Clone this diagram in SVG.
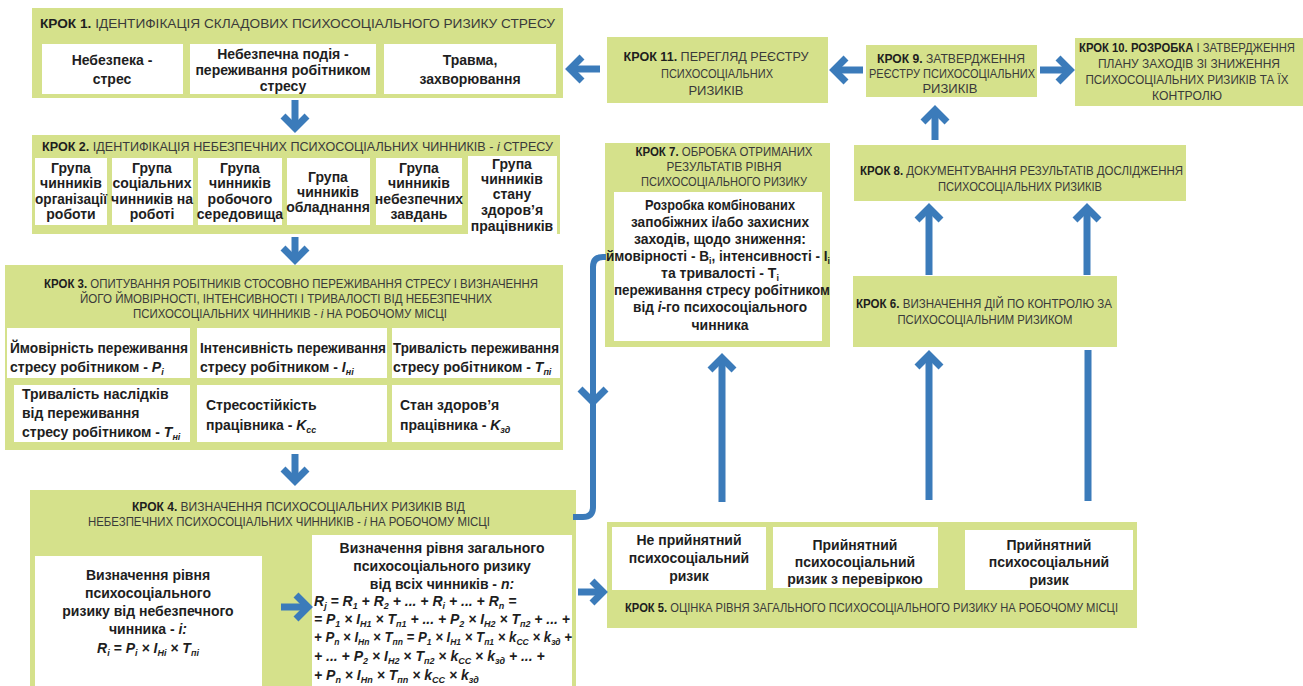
<svg xmlns="http://www.w3.org/2000/svg" width="1303" height="686" viewBox="0 0 1303 686">
<style>
.g{fill:#d5e18b}
.w{fill:#ffffff}
.t{font-family:"Liberation Sans Narrow","Liberation Sans",Arial,sans-serif;font-size:13px;fill:#3a3a3a}
.b{font-weight:bold;fill:#1e1e1e}
.x{font-family:"Liberation Sans",Arial,sans-serif;font-weight:bold;font-size:14px;fill:#1e1e1e}
.c{text-anchor:middle}
.f{font-style:italic}
.s{font-size:9px}
.arr{fill:none;stroke:#3b7bba;stroke-width:7;stroke-linejoin:miter;stroke-linecap:butt}
.ln{fill:none;stroke:#3b7bba;stroke-width:6}
</style>
<rect width="1303" height="686" fill="#ffffff"/>

<g id="step1">
<rect class="g" x="32" y="8" width="531" height="90"/>
<text class="t" x="40" y="28" font-size="15" textLength="515" lengthAdjust="spacingAndGlyphs"><tspan class="b">КРОК 1.</tspan> ІДЕНТИФІКАЦІЯ СКЛАДОВИХ ПСИХОСОЦІАЛЬНОГО РИЗИКУ СТРЕСУ</text>
<rect class="w" x="42" y="44" width="141" height="50"/>
<rect class="w" x="190" y="44" width="186" height="50"/>
<rect class="w" x="384" y="44" width="172" height="50"/>
<text class="x c" x="112" y="65">Небезпека -</text>
<text class="x c" x="112" y="84">стрес</text>
<text class="x c" x="283" y="59">Небезпечна подія -</text>
<text class="x c" x="283" y="75">переживання робітником</text>
<text class="x c" x="283" y="91">стресу</text>
<text class="x c" x="470" y="65">Травма,</text>
<text class="x c" x="470" y="84">захворювання</text>
</g>

<g id="step2">
<rect class="g" x="32" y="135" width="528" height="99"/>
<text class="t" x="42" y="151" font-size="13" textLength="511" lengthAdjust="spacingAndGlyphs"><tspan class="b">КРОК 2.</tspan> ІДЕНТИФІКАЦІЯ НЕБЕЗПЕЧНИХ ПСИХОСОЦІАЛЬНИХ ЧИННИКІВ - <tspan class="f">і</tspan> СТРЕСУ</text>
<rect class="w" x="35" y="158" width="72" height="67"/>
<rect class="w" x="112" y="158" width="81" height="67"/>
<rect class="w" x="198" y="158" width="84" height="67"/>
<rect class="w" x="287" y="158" width="83" height="67"/>
<rect class="w" x="376" y="158" width="86" height="67"/>
<rect class="w" x="468" y="156" width="89" height="78"/>
<g class="x c">
<text x="71" y="173">Група</text><text x="71" y="188">чинників</text><text x="71" y="204" textLength="72" lengthAdjust="spacingAndGlyphs">організації</text><text x="71" y="219">роботи</text>
<text x="152" y="173">Група</text><text x="152" y="188">соціальних</text><text x="152" y="204">чинників на</text><text x="152" y="219">роботі</text>
<text x="240" y="173">Група</text><text x="240" y="188">чинників</text><text x="240" y="204">робочого</text><text x="240" y="219">середовища</text>
<text x="328" y="182">Група</text><text x="328" y="197">чинників</text><text x="328" y="212">обладнання</text>
<text x="419" y="173">Група</text><text x="419" y="188">чинників</text><text x="419" y="204">небезпечних</text><text x="419" y="219">завдань</text>
<text x="512" y="169">Група</text><text x="512" y="184">чинників</text><text x="512" y="199">стану</text><text x="512" y="215">здоров’я</text><text x="512" y="231">працівників</text>
</g>
</g>

<g id="step3">
<rect class="g" x="5" y="265" width="558" height="185"/>
<text class="t" x="44" y="288" font-size="12" textLength="494" lengthAdjust="spacingAndGlyphs"><tspan class="b">КРОК 3.</tspan> ОПИТУВАННЯ РОБІТНИКІВ СТОСОВНО ПЕРЕЖИВАННЯ СТРЕСУ І ВИЗНАЧЕННЯ</text>
<text class="t" x="80" y="303" font-size="12" textLength="412" lengthAdjust="spacingAndGlyphs">ЙОГО ЙМОВІРНОСТІ, ІНТЕНСИВНОСТІ І ТРИВАЛОСТІ ВІД НЕБЕЗПЕЧНИХ</text>
<text class="t" x="133" y="318" font-size="12" textLength="314" lengthAdjust="spacingAndGlyphs">ПСИХОСОЦІАЛЬНИХ ЧИННИКІВ - <tspan class="f">і</tspan> НА РОБОЧОМУ МІСЦІ</text>
<rect class="w" x="7" y="328" width="183" height="50"/>
<rect class="w" x="197" y="328" width="190" height="50"/>
<rect class="w" x="392" y="328" width="168" height="50"/>
<rect class="w" x="14" y="385" width="176" height="57"/>
<rect class="w" x="197" y="385" width="190" height="57"/>
<rect class="w" x="392" y="385" width="168" height="57"/>
<g class="x">
<text x="10" y="353" textLength="178" lengthAdjust="spacingAndGlyphs">Ймовірність переживання</text>
<text x="10" y="372">стресу робітником - <tspan class="f">P</tspan><tspan class="s f" dy="3">і</tspan></text>
<text x="200" y="353" textLength="186" lengthAdjust="spacingAndGlyphs">Інтенсивність переживання</text>
<text x="200" y="372">стресу робітником - <tspan class="f">I</tspan><tspan class="s f" dy="3">ні</tspan></text>
<text x="393" y="353" textLength="166" lengthAdjust="spacingAndGlyphs">Тривалість переживання</text>
<text x="393" y="372">стресу робітником - <tspan class="f">T</tspan><tspan class="s f" dy="3">пі</tspan></text>
<text x="22" y="399">Тривалість наслідків</text>
<text x="22" y="418">від переживання</text>
<text x="22" y="437">стресу робітником - <tspan class="f">T</tspan><tspan class="s f" dy="3">ні</tspan></text>
<text x="206" y="410">Стресостійкість</text>
<text x="206" y="430">працівника - <tspan class="f">K</tspan><tspan class="s f" dy="3">сс</tspan></text>
<text x="400" y="410">Стан здоров’я</text>
<text x="400" y="430">працівника - <tspan class="f">K</tspan><tspan class="s f" dy="3">зд</tspan></text>
</g>
</g>

<g id="step4">
<rect class="g" x="30" y="490" width="546" height="196"/>
<text class="t" x="132" y="511" font-size="12" textLength="333" lengthAdjust="spacingAndGlyphs"><tspan class="b">КРОК 4.</tspan> ВИЗНАЧЕННЯ ПСИХОСОЦІАЛЬНИХ РИЗИКІВ ВІД</text>
<text class="t" x="88" y="526" font-size="12" textLength="402" lengthAdjust="spacingAndGlyphs">НЕБЕЗПЕЧНИХ ПСИХОСОЦІАЛЬНИХ ЧИННИКІВ - <tspan class="f">і</tspan> НА РОБОЧОМУ МІСЦІ</text>
<rect class="w" x="35" y="556" width="227" height="130"/>
<rect class="w" x="312" y="535" width="260" height="151"/>
<g class="x c" font-size="15">
<text x="148" y="580">Визначення рівня</text>
<text x="148" y="598">психосоціального</text>
<text x="148" y="616">ризику від небезпечного</text>
<text x="148" y="634">чинника - <tspan class="f">i:</tspan></text>
<text x="148" y="653" class="f">R<tspan class="s" dy="3">i</tspan><tspan dy="-3"> = P</tspan><tspan class="s" dy="3">i</tspan><tspan dy="-3"> × I</tspan><tspan class="s" dy="3">Hi</tspan><tspan dy="-3"> × T</tspan><tspan class="s" dy="3">пі</tspan></text>
<text x="442" y="553">Визначення рівня загального</text>
<text x="442" y="571">психосоціального ризику</text>
<text x="442" y="589">від всіх чинників - <tspan class="f">n:</tspan></text>
</g>
<g class="x f" font-size="13.5">
<text x="314" y="606">R<tspan class="s" dy="3">j</tspan><tspan dy="-3"> = R</tspan><tspan class="s" dy="3">1</tspan><tspan dy="-3"> + R</tspan><tspan class="s" dy="3">2</tspan><tspan dy="-3"> + ... + R</tspan><tspan class="s" dy="3">i</tspan><tspan dy="-3"> + ... + R</tspan><tspan class="s" dy="3">n</tspan><tspan dy="-3"> =</tspan></text>
<text x="314" y="624" textLength="256" lengthAdjust="spacingAndGlyphs">= P<tspan class="s" dy="3">1</tspan><tspan dy="-3"> × I</tspan><tspan class="s" dy="3">H1</tspan><tspan dy="-3"> × T</tspan><tspan class="s" dy="3">п1</tspan><tspan dy="-3"> + ... + P</tspan><tspan class="s" dy="3">2</tspan><tspan dy="-3"> × I</tspan><tspan class="s" dy="3">H2</tspan><tspan dy="-3"> × T</tspan><tspan class="s" dy="3">п2</tspan><tspan dy="-3"> + ... +</tspan></text>
<text x="314" y="642" textLength="258" lengthAdjust="spacingAndGlyphs">+ P<tspan class="s" dy="3">n</tspan><tspan dy="-3"> × I</tspan><tspan class="s" dy="3">Hn</tspan><tspan dy="-3"> × T</tspan><tspan class="s" dy="3">пn</tspan><tspan dy="-3"> = P</tspan><tspan class="s" dy="3">1</tspan><tspan dy="-3"> × I</tspan><tspan class="s" dy="3">H1</tspan><tspan dy="-3"> × T</tspan><tspan class="s" dy="3">п1</tspan><tspan dy="-3"> × k</tspan><tspan class="s" dy="3">CC</tspan><tspan dy="-3"> × k</tspan><tspan class="s" dy="3">зд</tspan><tspan dy="-3"> +</tspan></text>
<text x="314" y="661">+ ... + P<tspan class="s" dy="3">2</tspan><tspan dy="-3"> × I</tspan><tspan class="s" dy="3">H2</tspan><tspan dy="-3"> × T</tspan><tspan class="s" dy="3">п2</tspan><tspan dy="-3"> × k</tspan><tspan class="s" dy="3">CC</tspan><tspan dy="-3"> × k</tspan><tspan class="s" dy="3">зд</tspan><tspan dy="-3"> + ... +</tspan></text>
<text x="314" y="680">+ P<tspan class="s" dy="3">n</tspan><tspan dy="-3"> × I</tspan><tspan class="s" dy="3">Hn</tspan><tspan dy="-3"> × T</tspan><tspan class="s" dy="3">пn</tspan><tspan dy="-3"> × k</tspan><tspan class="s" dy="3">CC</tspan><tspan dy="-3"> × k</tspan><tspan class="s" dy="3">зд</tspan></text>
</g>
</g>

<g id="step5">
<rect class="g" x="607" y="522" width="530" height="106"/>
<rect class="w" x="612" y="527" width="154" height="63"/>
<rect class="w" x="773" y="527" width="165" height="61"/>
<rect class="w" x="965" y="530" width="168" height="60"/>
<g class="x c">
<text x="689" y="545">Не прийнятний</text><text x="689" y="563">психосоціальний</text><text x="689" y="581">ризик</text>
<text x="855" y="550">Прийнятний</text><text x="855" y="567">психосоціальний</text><text x="855" y="584">ризик з перевіркою</text>
<text x="1049" y="550">Прийнятний</text><text x="1049" y="567">психосоціальний</text><text x="1049" y="585">ризик</text>
</g>
<text class="t" x="625" y="612" textLength="493" lengthAdjust="spacingAndGlyphs"><tspan class="b">КРОК 5.</tspan> ОЦІНКА РІВНЯ ЗАГАЛЬНОГО ПСИХОСОЦІАЛЬНОГО РИЗИКУ НА РОБОЧОМУ МІСЦІ</text>
</g>

<g id="step6">
<rect class="g" x="853" y="276" width="264" height="71"/>
<text class="t" x="856" y="308" textLength="256" lengthAdjust="spacingAndGlyphs"><tspan class="b">КРОК 6.</tspan> ВИЗНАЧЕННЯ ДІЙ ПО КОНТРОЛЮ ЗА</text>
<text class="t c" x="985" y="324" textLength="175" lengthAdjust="spacingAndGlyphs">ПСИХОСОЦІАЛЬНИМ РИЗИКОМ</text>
</g>

<g id="step7">
<rect class="g" x="605" y="143" width="225" height="204"/>
<text class="t c" x="724" y="156" font-size="12.5" textLength="177" lengthAdjust="spacingAndGlyphs"><tspan class="b">КРОК 7.</tspan> ОБРОБКА ОТРИМАНИХ</text>
<text class="t c" x="724" y="171" font-size="12.5" textLength="115" lengthAdjust="spacingAndGlyphs">РЕЗУЛЬТАТІВ РІВНЯ</text>
<text class="t c" x="724" y="186" font-size="12.5" textLength="166" lengthAdjust="spacingAndGlyphs">ПСИХОСОЦІАЛЬНОГО РИЗИКУ</text>
<rect class="w" x="614" y="192" width="208" height="149"/>
<g class="x c">
<text x="720" y="210" textLength="150" lengthAdjust="spacingAndGlyphs">Розробка комбінованих</text>
<text x="720" y="227" textLength="178" lengthAdjust="spacingAndGlyphs">запобіжних і/або захисних</text>
<text x="720" y="244" textLength="172" lengthAdjust="spacingAndGlyphs">заходів, щодо зниження:</text>
<text x="718" y="261" textLength="224" lengthAdjust="spacingAndGlyphs">ймовірності - В<tspan class="s" dy="3">і</tspan><tspan dy="-3">, інтенсивності - І</tspan><tspan class="s" dy="3">і</tspan></text>
<text x="720" y="278">та тривалості - Т<tspan class="s" dy="3">і</tspan></text>
<text x="722" y="295" textLength="216" lengthAdjust="spacingAndGlyphs">переживання стресу робітником</text>
<text x="720" y="312" textLength="174" lengthAdjust="spacingAndGlyphs">від <tspan class="f">i</tspan>-го психосоціального</text>
<text x="720" y="330">чинника</text>
</g>
</g>

<g id="step8">
<rect class="g" x="854" y="145" width="332" height="56"/>
<text class="t" x="860" y="175" textLength="323" lengthAdjust="spacingAndGlyphs"><tspan class="b">КРОК 8.</tspan> ДОКУМЕНТУВАННЯ РЕЗУЛЬТАТІВ ДОСЛІДЖЕННЯ</text>
<text class="t c" x="1020" y="191" textLength="164" lengthAdjust="spacingAndGlyphs">ПСИХОСОЦІАЛЬНИХ РИЗИКІВ</text>
</g>

<g id="step9">
<rect class="g" x="866" y="45" width="171" height="52"/>
<text class="t c" x="951" y="63" textLength="148" lengthAdjust="spacingAndGlyphs"><tspan class="b">КРОК 9.</tspan> ЗАТВЕРДЖЕННЯ</text>
<text class="t c" x="952" y="78" textLength="166" lengthAdjust="spacingAndGlyphs">РЕЄСТРУ ПСИХОСОЦІАЛЬНИХ</text>
<text class="t c" x="950" y="93">РИЗИКІВ</text>
</g>

<g id="step10">
<rect class="g" x="1075" y="38" width="228" height="68"/>
<text class="t c" x="1187" y="52" font-size="12.5" textLength="216" lengthAdjust="spacingAndGlyphs"><tspan class="b">КРОК 10. РОЗРОБКА</tspan> І ЗАТВЕРДЖЕННЯ</text>
<text class="t c" x="1189" y="68" font-size="12.5" textLength="182" lengthAdjust="spacingAndGlyphs">ПЛАНУ ЗАХОДІВ ЗІ ЗНИЖЕННЯ</text>
<text class="t c" x="1187" y="84" font-size="12.5" textLength="203" lengthAdjust="spacingAndGlyphs">ПСИХОСОЦІАЛЬНИХ РИЗИКІВ ТА ЇХ</text>
<text class="t c" x="1187" y="100" font-size="12.5" textLength="70" lengthAdjust="spacingAndGlyphs">КОНТРОЛЮ</text>
</g>

<g id="step11">
<rect class="g" x="607" y="37" width="221" height="66"/>
<text class="t c" x="716" y="61" font-size="14" textLength="185" lengthAdjust="spacingAndGlyphs"><tspan class="b">КРОК 11.</tspan> ПЕРЕГЛЯД РЕЄСТРУ</text>
<text class="t c" x="717" y="78" font-size="14" textLength="112" lengthAdjust="spacingAndGlyphs">ПСИХОСОЦІАЛЬНИХ</text>
<text class="t c" x="716" y="95" font-size="14">РИЗИКІВ</text>
</g>

<g id="connectors">
<line class="arr" x1="600" y1="69" x2="572" y2="69"/>
<polyline class="arr" points="582,57 570,69 582,81"/>
<line class="arr" x1="863" y1="70" x2="836" y2="70"/>
<polyline class="arr" points="846,58 834,70 846,82"/>
<line class="arr" x1="1040" y1="70" x2="1068" y2="70"/>
<polyline class="arr" points="1058,58 1070,70 1058,82"/>
<line class="arr" x1="935" y1="140" x2="935" y2="112"/>
<polyline class="arr" points="923,122 935,110 947,122"/>
<line class="arr" x1="929" y1="275" x2="929" y2="210"/>
<polyline class="arr" points="917,220 929,208 941,220"/>
<line class="arr" x1="1087" y1="275" x2="1087" y2="210"/>
<polyline class="arr" points="1075,220 1087,208 1099,220"/>
<line class="arr" x1="722" y1="502" x2="722" y2="359"/>
<polyline class="arr" points="710,370 722,358 734,370"/>
<line class="arr" x1="929" y1="500" x2="929" y2="356"/>
<polyline class="arr" points="917,367 929,355 941,367"/>
<line class="arr" x1="1088" y1="350" x2="1088" y2="501"/>
<line class="arr" x1="295" y1="100" x2="295" y2="126"/>
<polyline class="arr" points="283,116 295,128 307,116"/>
<line class="arr" x1="295" y1="237" x2="295" y2="258"/>
<polyline class="arr" points="283,248 295,260 307,248"/>
<line class="arr" x1="295" y1="454" x2="295" y2="479"/>
<polyline class="arr" points="283,469 295,481 307,469"/>
<line class="arr" x1="281" y1="607" x2="306" y2="607"/>
<polyline class="arr" points="296,595 308,607 296,619"/>
<line class="arr" x1="578" y1="592" x2="601" y2="592"/>
<polyline class="arr" points="592,581 603,592 592,603"/>
<path class="ln" d="M573,517 H583 Q593,517 593,507 V267 Q593,257 603,257 H606"/>
<polyline class="arr" points="580,389 593,402 606,389"/>
</g>
</svg>
